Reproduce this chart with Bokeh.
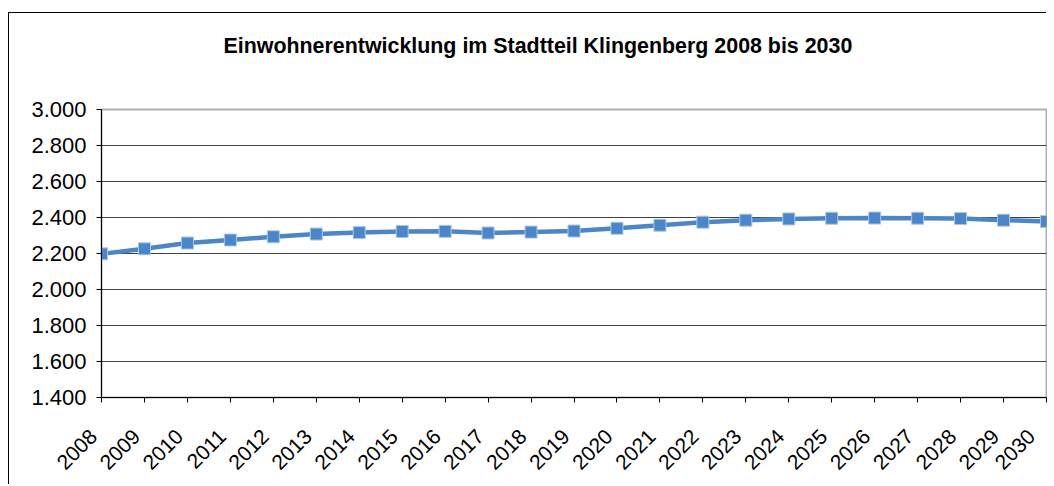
from bokeh.plotting import figure
from bokeh.models import Range1d, FixedTicker, Title
from bokeh.embed import file_html
from bokeh.resources import INLINE

# ---- data ----
years = list(range(2008, 2031))
einwohner = [2198, 2226, 2258, 2275, 2293, 2308, 2316, 2322, 2323, 2314, 2319, 2325,
             2340, 2357, 2374, 2385, 2392, 2396, 2397, 2396, 2394, 2385, 2378]
y_ticks = [1400, 1600, 1800, 2000, 2200, 2400, 2600, 2800, 3000]
y_tick_labels = ["1.400", "1.600", "1.800", "2.000", "2.200", "2.400", "2.600", "2.800", "3.000"]
x_tick_labels = [str(y) for y in years]
title_text = "Einwohnerentwicklung im Stadtteil Klingenberg 2008 bis 2030"

FONT = "Liberation Sans"
BLUE = "#4a86c8"
NBSP = "\u00a0"

p = figure(width=1038, height=472, output_backend="svg", toolbar_location=None,
           x_range=Range1d(years[0], years[-1]), y_range=Range1d(y_ticks[0], y_ticks[-1]),
           min_border_left=92, min_border_right=1, min_border_bottom=86, min_border_top=96)

# spacer between plot area and title (keeps the title high above the frame)
p.add_layout(Title(text=" ", text_font_size="1px", standoff=49), "above")
p.title = Title(text=title_text, align="left", offset=122, standoff=0,
                text_font=FONT, text_font_size="21.4px", text_font_style="bold", text_color="black")

p.styles = {"margin-left": "9px", "margin-top": "13px", "box-shadow": "-1px -1px 0 0 black"}

p.background_fill_color = "white"
p.border_fill_color = "white"
p.outline_line_color = "#b0b0b0"
p.outline_line_width = 2

# axes
p.xaxis.ticker = FixedTicker(ticks=years)
p.xaxis.major_label_overrides = {y: l + NBSP * 2 for y, l in zip(years, x_tick_labels)}
p.yaxis.ticker = FixedTicker(ticks=y_ticks)
p.yaxis.major_label_overrides = {v: l for v, l in zip(y_ticks, y_tick_labels)}
for ax in (p.xaxis, p.yaxis):
    ax.axis_line_color = "black"
    ax.axis_line_width = 1
    ax.major_tick_line_color = "black"
    ax.major_tick_out = 5
    ax.major_tick_in = 0
    ax.minor_tick_line_color = None
    ax.major_label_text_font = FONT
    ax.major_label_text_color = "black"
p.yaxis.major_label_text_font_size = "22px"
p.xaxis.major_label_text_font_size = "21px"
p.yaxis.major_label_standoff = 10
p.xaxis.major_label_orientation = 0.785398
p.xaxis.major_label_standoff = 22

p.xgrid.grid_line_color = None
p.ygrid.ticker = FixedTicker(ticks=y_ticks[1:-1])
p.ygrid.grid_line_color = "#404040"
p.ygrid.grid_line_width = 1

p.line(years, einwohner, line_color=BLUE, line_width=4.5)
p.scatter(years, einwohner, marker="square", size=12, fill_color=BLUE,
          line_color="#a9c7ea", line_width=1)

open("out.html", "w").write(file_html(p, INLINE))
